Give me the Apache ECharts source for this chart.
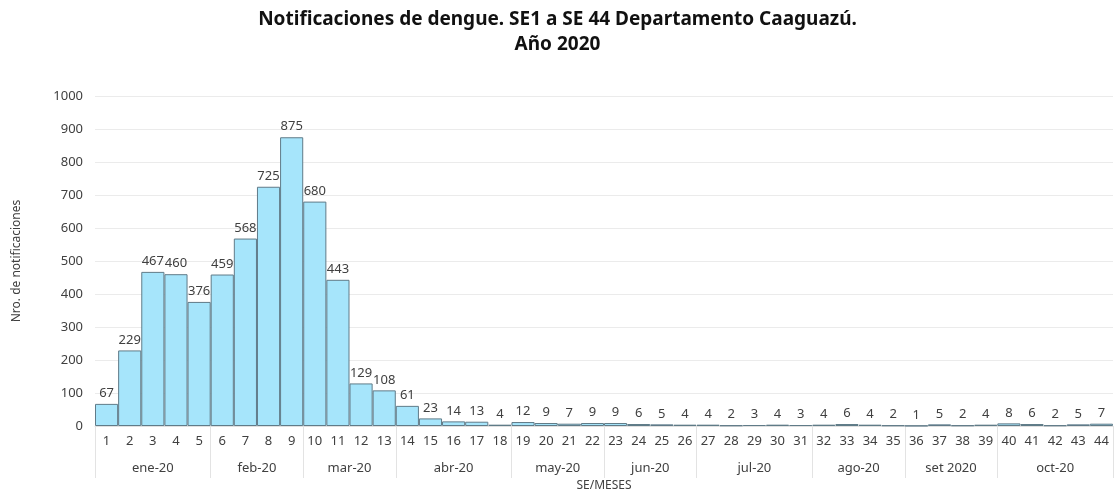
<!DOCTYPE html>
<html>
<head>
<meta charset="utf-8">
<script src="https://cdn.jsdelivr.net/npm/echarts@6/dist/echarts.min.js"></script>
<style>
  html, body { margin: 0; padding: 0; background: #fff; }
  #chart { width: 1115px; height: 498px; }
</style>
</head>
<body>
<div id="chart"></div>
<script>
// semanas epidemiologicas 1..44
var weeks = [];
for (var w = 1; w <= 44; w++) weeks.push(String(w));

var notificaciones = [67, 229, 467, 460, 376, 459, 568, 725, 875, 680, 443, 129, 108,
  61, 23, 14, 13, 4, 12, 9, 7, 9, 9, 6, 5, 4, 4, 2, 3, 4, 3, 4, 6, 4, 2,
  1, 5, 2, 4, 8, 6, 2, 5, 7];

var monthNames = ['ene-20', 'feb-20', 'mar-20', 'abr-20', 'may-20', 'jun-20',
  'jul-20', 'ago-20', 'set 2020', 'oct-20'];
var weeksPerMonth = [5, 4, 4, 5, 4, 4, 5, 4, 4, 5];

var yTicks = [0, 100, 200, 300, 400, 500, 600, 700, 800, 900, 1000];

// limites y centros de cada mes sobre el eje de semanas
var bounds = [0];
var centers = [];
var centerName = {};
weeksPerMonth.forEach(function (n, i) {
  var start = bounds[bounds.length - 1];
  bounds.push(start + n);
  var c = start + n / 2;
  centers.push(c);
  centerName[c] = monthNames[i];
});

var font = '"Noto Sans", "Open Sans", sans-serif';

var myChart = echarts.init(document.getElementById('chart'));

var option = {
  animation: false,
  textStyle: { fontFamily: font },
  title: {
    text: 'Notificaciones de dengue. SE1 a SE 44 Departamento Caaguazú.\nAño 2020',
    left: 'center',
    top: 2,
    textStyle: {
      fontFamily: font,
      fontSize: 19,
      fontWeight: 'bold',
      color: '#111',
      lineHeight: 25
    }
  },
  grid: { left: 95, right: 2, top: 96, bottom: 72 },
  xAxis: [{
    type: 'category',
    data: weeks,
    position: 'bottom',
    axisLine: { show: true, lineStyle: { color: '#e0e0e0' } },
    axisTick: { show: false },
    axisLabel: { color: '#404040', fontSize: 13, margin: 9, interval: 0 },
    name: 'SE/MESES',
    nameLocation: 'middle',
    nameGap: 54,
    nameTextStyle: { color: '#404040', fontSize: 12 }
  }, {
    type: 'value',
    min: 0,
    max: 44,
    position: 'bottom',
    axisLine: { show: false },
    splitLine: { show: false },
    axisTick: {
      show: true,
      customValues: bounds,
      length: 52,
      lineStyle: { color: '#e3e3e3' }
    },
    axisLabel: {
      customValues: centers,
      color: '#404040',
      fontSize: 13,
      margin: 36,
      formatter: function (v) { return centerName[v] || ''; }
    }
  }],
  yAxis: {
    type: 'value',
    min: yTicks[0],
    max: yTicks[yTicks.length - 1],
    interval: 100,
    axisLine: { show: false },
    axisTick: { show: false },
    splitLine: { lineStyle: { color: '#ebebeb' } },
    axisLabel: {
      color: '#404040',
      fontSize: 13,
      margin: 12,
      formatter: function (v) { return String(v); }
    },
    name: 'Nro. de notificaciones',
    nameLocation: 'middle',
    nameGap: 72,
    nameTextStyle: { color: '#404040', fontSize: 12 }
  },
  series: [{
    type: 'bar',
    xAxisIndex: 0,
    data: notificaciones,
    barCategoryGap: 0,
    itemStyle: {
      color: '#a6e5fb',
      borderColor: '#607b88',
      borderWidth: 1
    },
    label: {
      show: true,
      position: 'top',
      distance: 4,
      color: '#404040',
      fontSize: 13
    }
  }]
};

myChart.setOption(option);
</script>
</body>
</html>
